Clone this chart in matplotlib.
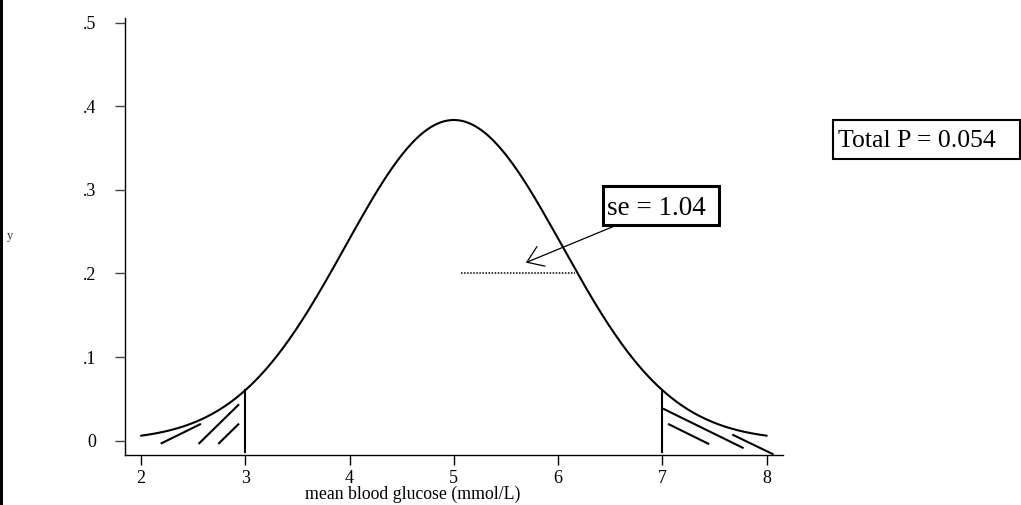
import numpy as np
import matplotlib
matplotlib.use("Agg")
import matplotlib.pyplot as plt
from matplotlib.patches import Rectangle

# Sampling distribution of mean blood glucose
mean_glucose = 5.0
se = 1.04
total_p = 0.054
lower_cut = 3.0
upper_cut = 7.0
curve_start, curve_end = 2.0, 8.0

x_ticks = [2, 3, 4, 5, 6, 7, 8]
x_tick_labels = ["2", "3", "4", "5", "6", "7", "8"]
y_ticks = [0, 0.1, 0.2, 0.3, 0.4, 0.5]
y_tick_labels = ["0", ".1", ".2", ".3", ".4", ".5"]

# hatch strokes in the two tails: (x0, y0, x1, y1)
left_hatch = [(2.198, -0.003, 2.566, 0.0196),
              (2.559, -0.003, 2.933, 0.0427),
              (2.748, -0.003, 2.933, 0.0196)]
right_hatch = [(7.013, 0.0379, 7.769, -0.0084),
               (7.062, 0.0196, 7.439, -0.0036),
               (7.679, 0.0068, 8.056, -0.0159)]
cut_line_bottom = -0.013

# dotted se segment and the arrow pointing at it
se_seg_x = [5.07, 6.16]
se_seg_y = 0.2
arrow_tip = (5.69, 0.213)
arrow_tail = (6.545, 0.257)

SERIF = ["Liberation Serif", "DejaVu Serif"]
W, H = 1021, 505

def normal_pdf(x, mu, s):
    return np.exp(-0.5 * ((x - mu) / s) ** 2) / (s * np.sqrt(2 * np.pi))

fig = plt.figure(figsize=(W / 100, H / 100), dpi=100)
ax = fig.add_axes([125 / W, 1 - 455 / H, (782.7 - 125) / W, (455 - 18) / H])

xs = np.linspace(curve_start, curve_end, 400)
ax.plot(xs, normal_pdf(xs, mean_glucose, se), color="black", lw=1.5,
        solid_capstyle="round")

for xc in (lower_cut, upper_cut):
    ax.plot([xc, xc], [cut_line_bottom, normal_pdf(xc, mean_glucose, se)],
            color="black", lw=1.5)

for x0, y0, x1, y1 in left_hatch + right_hatch:
    ax.plot([x0, x1], [y0, y1], color="black", lw=1.5)

ax.plot(se_seg_x, [se_seg_y, se_seg_y], color="black", lw=1.1,
        linestyle=(0, (1, 1)))

ax.annotate("", xy=arrow_tip, xytext=arrow_tail,
            arrowprops=dict(arrowstyle="->,head_length=0.55,head_width=0.38",
                            color="black", lw=0.9, mutation_scale=20,
                            shrinkA=0, shrinkB=0))

ax.set_xlim(1.8466, 8.153)
ax.set_ylim(-0.0171, 0.5056)
ax.set_xticks(x_ticks)
ax.set_xticklabels(x_tick_labels, fontfamily=SERIF, fontsize=13)
ax.set_yticks(y_ticks)
ax.set_yticklabels(y_tick_labels, fontfamily=SERIF, fontsize=13)
ax.tick_params(axis="x", length=7, width=1, pad=3.5, color="black")
ax.tick_params(axis="y", length=7, width=1, pad=13.5, color="#444444")
for side in ("top", "right"):
    ax.spines[side].set_visible(False)
for side in ("left", "bottom"):
    ax.spines[side].set_linewidth(1.0)
    ax.spines[side].set_color("black")

# x axis title
fig.text(305 / W, 1 - 499 / H, "mean blood glucose (mmol/L)",
         fontfamily=SERIF, fontsize=12.8, ha="left", va="baseline")
# small y axis title
fig.text(10 / W, 1 - 236 / H, "y", fontfamily=SERIF, fontsize=9,
         ha="center", va="center", color="#333333")

# se label box
fig.add_artist(Rectangle((602.7 / W, 1 - 225 / H), 116.6 / W, 39 / H,
                         transform=fig.transFigure, facecolor="white",
                         edgecolor="black", lw=2.2, zorder=5))
fig.text(606.7 / W, 1 - 215 / H, f"se = {se:.2f}", fontfamily=SERIF,
         fontsize=19.5, ha="left", va="baseline", zorder=6)

# total p box
fig.add_artist(Rectangle((833.3 / W, 1 - 159 / H), (1020 - 833.3) / W, 39 / H,
                         transform=fig.transFigure, facecolor="white",
                         edgecolor="black", lw=1.5, zorder=5))
fig.text(838 / W, 1 - 146.7 / H, f"Total P = {total_p:.3f}", fontfamily=SERIF,
         fontsize=18.5, ha="left", va="baseline", zorder=6)

# dark strip along the left edge
fig.add_artist(Rectangle((0, 0), 2.5 / W, 1, transform=fig.transFigure,
                         facecolor="black", edgecolor="none", zorder=5))

fig.savefig("out.png", dpi=100)
